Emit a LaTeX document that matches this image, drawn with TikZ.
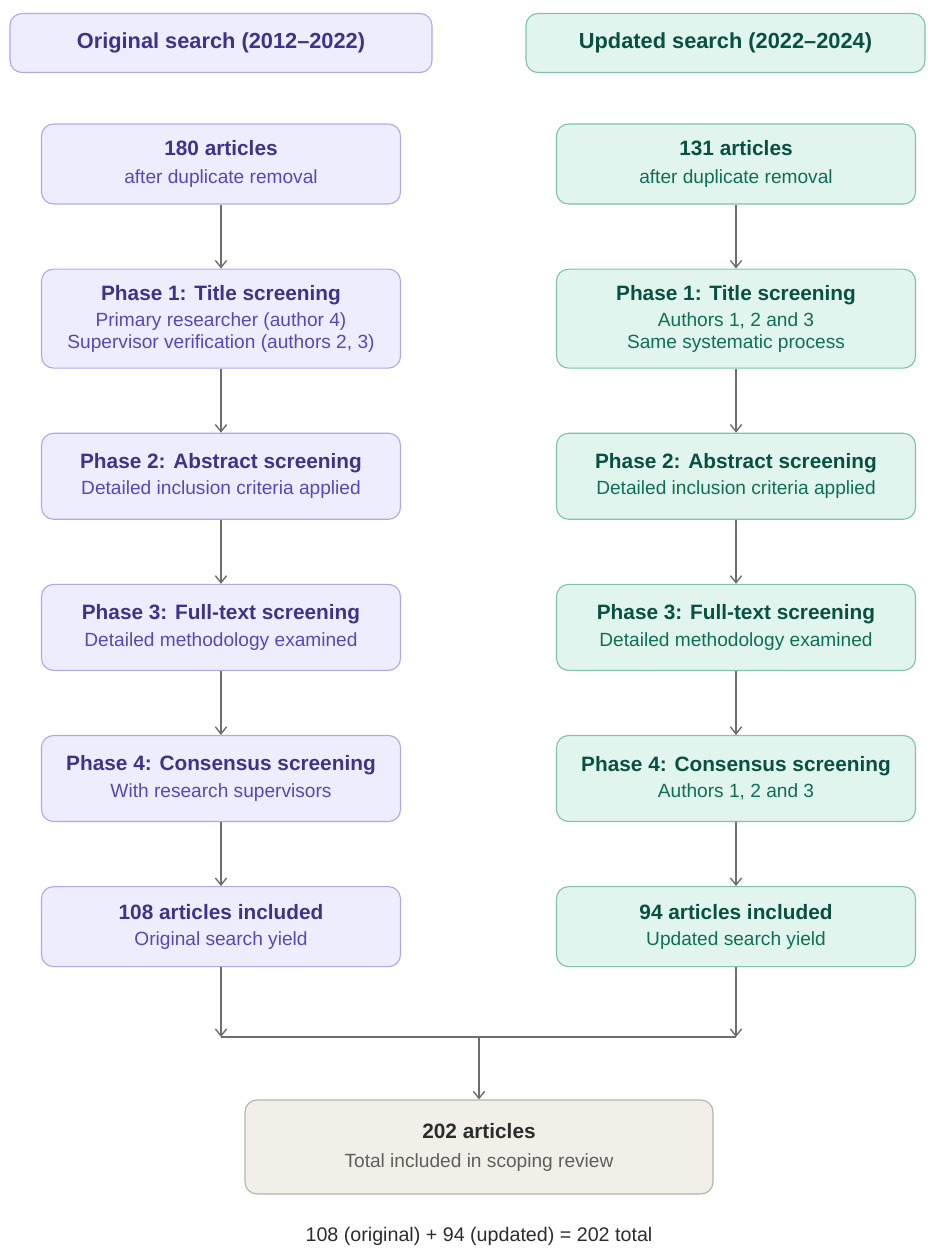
\documentclass[tikz,border=0pt]{standalone}
\usepackage{fontspec}
\setmainfont{Liberation Sans}
\usepackage{tikz}
\usetikzlibrary{arrows.meta,positioning,calc}
\definecolor{origfill}{HTML}{EEEDFE}
\definecolor{origline}{HTML}{AFA9EC}
\definecolor{origtext}{HTML}{3C3489}
\definecolor{origsub}{HTML}{534AB7}
\definecolor{updfill}{HTML}{E1F5EE}
\definecolor{updline}{HTML}{7DC4A8}
\definecolor{updtext}{HTML}{085041}
\definecolor{updsub}{HTML}{0F6E56}
\definecolor{totfill}{HTML}{F1EFE8}
\definecolor{totline}{HTML}{B4B2A9}
\definecolor{tottext}{HTML}{2C2C2A}
\definecolor{totsub}{HTML}{5F5E5A}
\definecolor{flowline}{HTML}{6E6E6A}
\newcommand{\ttl}[1]{{\fontsize{14.8}{18}\selectfont\bfseries #1}}
\tikzset{
    box/.style={
        rectangle,
        draw,
        rounded corners=0.3cm,
        line width=0.8pt,
        align=center,
        minimum width=8.975cm,
        minimum height=2.15cm,
        font=\fontsize{13.6}{15.6}\selectfont
    },
    orig/.style={box, fill=origfill, draw=origline, text=origsub},
    upd/.style={box, fill=updfill, draw=updline, text=updsub},
    head/.style={
        rectangle,
        draw,
        rounded corners=0.3cm,
        line width=0.8pt,
        minimum height=1.475cm,
        font=\fontsize{15.5}{18}\selectfont\bfseries
    },
    flow/.style={draw=flowline, line width=1pt, -{Straight Barb[length=5pt,width=8pt]}}
}
\begin{document}
\begin{tikzpicture}[node distance=1.6cm]
    \useasboundingbox (0,0) rectangle (23.4,-31.225);
    % search periods
    \node (ohead) [head, fill=origfill, draw=origline, text=origtext, minimum width=10.55cm] at (5.525,-1.075) {Original search (2012--2022)};
    \node (uhead) [head, fill=updfill, draw=updline, text=updtext, minimum width=9.975cm] at (18.1375,-1.075) {Updated search (2022--2024)};

    % original search column
    \node (oart) [orig, minimum height=2cm] at (5.525,-4.1) {\textcolor{origtext}{\ttl{180 articles}}\\[4pt] after duplicate removal};
    \node (oph1) [orig, minimum height=2.475cm, below=of oart] {\textcolor{origtext}{\ttl{Phase 1: Title screening}}\\[3pt] Primary researcher (author 4)\\ Supervisor verification (authors 2, 3)};
    \node (oph2) [orig, below=of oph1] {\textcolor{origtext}{\ttl{Phase 2: Abstract screening}}\\[3pt] Detailed inclusion criteria applied};
    \node (oph3) [orig, below=of oph2] {\textcolor{origtext}{\ttl{Phase 3: Full-text screening}}\\[3pt] Detailed methodology examined};
    \node (oph4) [orig, below=of oph3] {\textcolor{origtext}{\ttl{Phase 4: Consensus screening}}\\[3pt] With research supervisors};
    \node (oyield) [orig, minimum height=2cm, below=of oph4] {\textcolor{origtext}{\ttl{108 articles included}}\\[3pt] Original search yield};

    % updated search column
    \node (uart) [upd, minimum height=2cm] at (18.4,-4.1) {\textcolor{updtext}{\ttl{131 articles}}\\[4pt] after duplicate removal};
    \node (uph1) [upd, minimum height=2.475cm, below=of uart] {\textcolor{updtext}{\ttl{Phase 1: Title screening}}\\[3pt] Authors 1, 2 and 3\\ Same systematic process};
    \node (uph2) [upd, below=of uph1] {\textcolor{updtext}{\ttl{Phase 2: Abstract screening}}\\[3pt] Detailed inclusion criteria applied};
    \node (uph3) [upd, below=of uph2] {\textcolor{updtext}{\ttl{Phase 3: Full-text screening}}\\[3pt] Detailed methodology examined};
    \node (uph4) [upd, below=of uph3] {\textcolor{updtext}{\ttl{Phase 4: Consensus screening}}\\[3pt] Authors 1, 2 and 3};
    \node (uyield) [upd, minimum height=2cm, below=of uph4] {\textcolor{updtext}{\ttl{94 articles included}}\\[3pt] Updated search yield};

    % combined result
    \coordinate (merge) at (11.975,-25.925);
    \node (total) [box, fill=totfill, draw=totline, text=totsub, minimum width=11.7cm, minimum height=2.35cm] at (11.975,-28.675) {\textcolor{tottext}{\ttl{202 articles}}\\[5pt] Total included in scoping review};
    \node (sum) [font=\fontsize{14}{16}\selectfont, text=tottext] at (11.975,-30.9) {108 (original) + 94 (updated) = 202 total};

    \draw [flow] (oart) -- (oph1);
    \draw [flow] (oph1) -- (oph2);
    \draw [flow] (oph2) -- (oph3);
    \draw [flow] (oph3) -- (oph4);
    \draw [flow] (oph4) -- (oyield);
    \draw [flow] (uart) -- (uph1);
    \draw [flow] (uph1) -- (uph2);
    \draw [flow] (uph2) -- (uph3);
    \draw [flow] (uph3) -- (uph4);
    \draw [flow] (uph4) -- (uyield);

    \draw [flow] (oyield) -- (oyield |- merge);
    \draw [flow] (uyield) -- (uyield |- merge);
    \draw [draw=flowline, line width=1pt] (oyield |- merge) -- (uyield |- merge);
    \draw [flow] (merge) -- (total);
\end{tikzpicture}
\end{document}
